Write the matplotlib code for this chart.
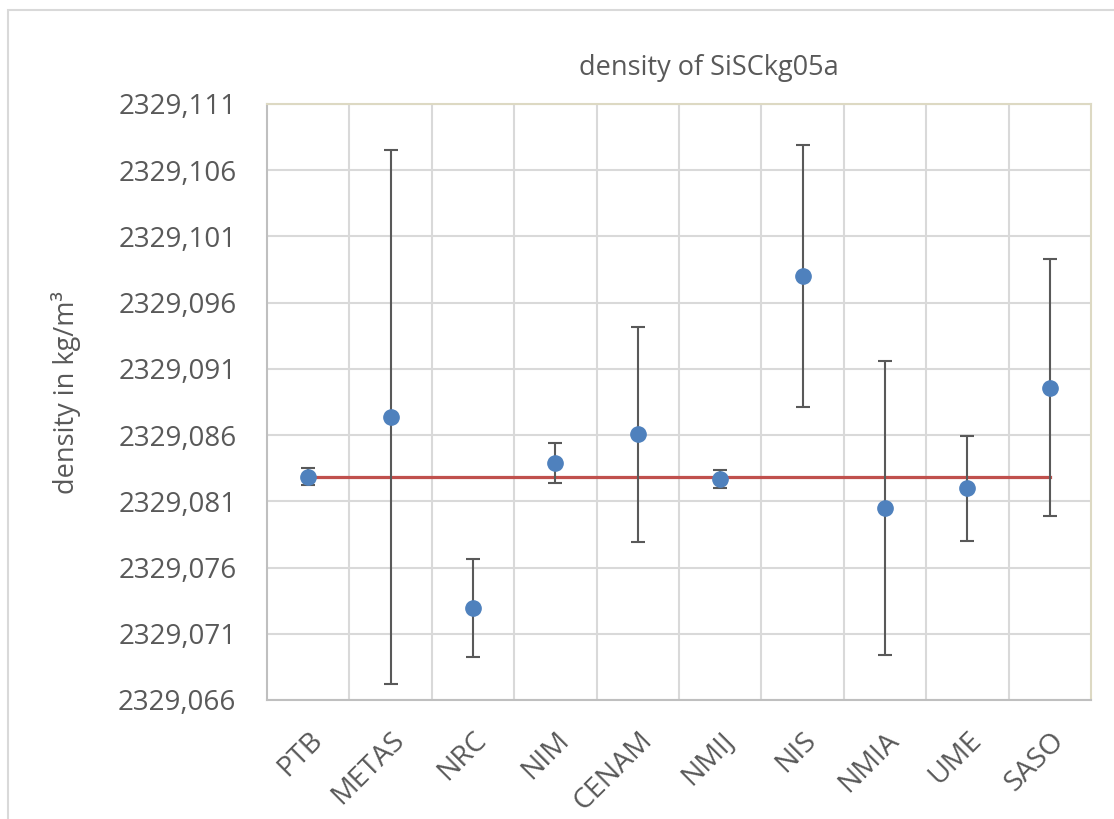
import matplotlib
matplotlib.use("Agg")
import matplotlib.pyplot as plt
from matplotlib.ticker import FuncFormatter, FixedLocator
from matplotlib.patches import Rectangle

labs = ["PTB", "METAS", "NRC", "NIM", "CENAM", "NMIJ", "NIS", "NMIA", "UME", "SASO"]
dens = [2329.08286, 2329.08739, 2329.07293, 2329.08392, 2329.08605, 2329.08268,
        2329.09801, 2329.08049, 2329.08197, 2329.08959]
unc = [0.00064, 0.02017, 0.00370, 0.00151, 0.00810, 0.00069,
       0.00991, 0.01111, 0.00397, 0.00973]
ref = 2329.08286
yticks = [2329.066, 2329.071, 2329.076, 2329.081, 2329.086, 2329.091,
          2329.096, 2329.101, 2329.106, 2329.111]

plt.rcParams['font.family'] = ['Open Sans', 'DejaVu Sans']
txt = '#595959'

fig = plt.figure(figsize=(11.14, 8.19), dpi=100)
fig.patches.append(Rectangle((8/1114, -0.2), 1.2, 1.2 - 10/819, transform=fig.transFigure,
                             fill=False, edgecolor='#d9d9d9', linewidth=1.5, zorder=0))
ax = fig.add_axes([267/1114, 1 - 700/819, 824/1114, 596/819])

x = list(range(1, len(labs) + 1))
ax.plot([x[0], x[-1]], [ref, ref], color='#c0504d', linewidth=2.3, zorder=2)
ax.errorbar(x, dens, yerr=unc, fmt='o', color='#4f81bd', markersize=11,
            ecolor='#595959', elinewidth=1.5, capsize=5, capthick=1.5, zorder=3)

ax.set_xlim(0.5, len(labs) + 0.5)
ax.set_ylim(yticks[0], yticks[-1])
ax.yaxis.set_major_locator(FixedLocator(yticks))
ax.yaxis.set_major_formatter(FuncFormatter(lambda v, p: f"{v:.3f}".replace('.', ',')))
ax.xaxis.set_major_locator(FixedLocator(x))
ax.xaxis.set_minor_locator(FixedLocator([i + 0.5 for i in x[:-1]]))
ax.set_xticklabels(labs, rotation=45, ha='right', va='top', rotation_mode='anchor',
                   fontsize=20.5, color=txt)
ax.tick_params(axis='y', length=0, pad=22, labelsize=20, labelcolor=txt)
ax.tick_params(axis='x', which='both', length=0, pad=19)
ax.grid(axis='y', which='major', color='#d9d9d9', linewidth=1.5, zorder=0)
ax.grid(axis='x', which='minor', color='#d9d9d9', linewidth=1.5, zorder=0)
ax.set_axisbelow(True)
for s in ['left', 'bottom']:
    ax.spines[s].set_color('#bfbfbf')
    ax.spines[s].set_linewidth(1.5)
for s in ['top', 'right']:
    ax.spines[s].set_color('#ddd9c3')
    ax.spines[s].set_linewidth(1.5)

fig.text(709/1114, 1 - 68/819, "density of SiSCkg05a", ha='center', va='center',
         fontsize=19.5, color=txt)
fig.text(66/1114, 1 - 393/819, "density in kg/m³", ha='center', va='center',
         rotation=90, fontsize=19.5, color=txt)

fig.savefig("out.png", dpi=100)
